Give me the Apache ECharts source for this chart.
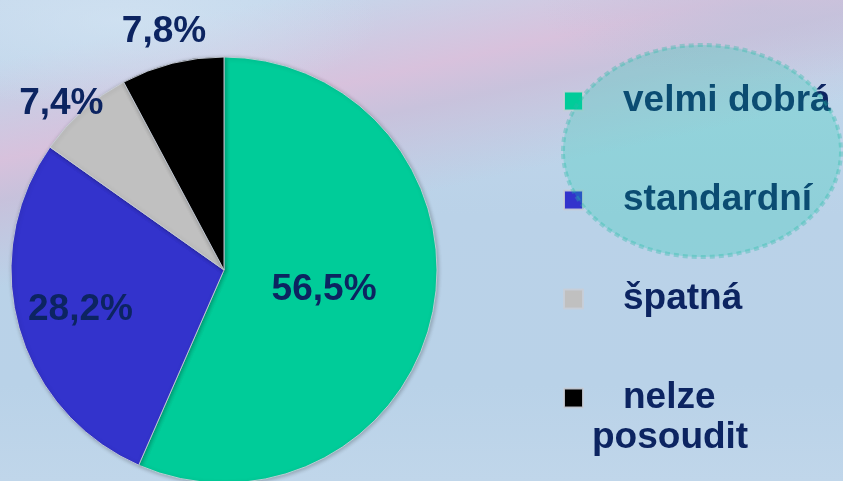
<!DOCTYPE html>
<html>
<head>
<meta charset="utf-8">
<script src="https://cdn.jsdelivr.net/npm/echarts@6/dist/echarts.min.js"></script>
<style>
  html, body { margin: 0; padding: 0; }
  #chart {
    width: 843px;
    height: 481px;
    background:
      radial-gradient(ellipse 260px 90px at 120px 20px, rgba(214,230,244,0.6), rgba(214,230,244,0)),
      radial-gradient(ellipse 220px 70px at 760px 10px, rgba(192,192,218,0.55), rgba(192,192,218,0)),
      linear-gradient(167.5deg,
        rgba(222,196,220,0) 9%,
        rgba(220,190,218,0.85) 24%,
        rgba(204,186,214,0.7) 30%,
        rgba(214,196,220,0) 43%),
      linear-gradient(180deg, #c4d8ec 0%, #bad2e8 45%, #b9d2e8 80%, #c0d6ea 100%);
  }
</style>
</head>
<body>
<div id="chart"></div>
<script>
// Assessment shares (%), clockwise from 12 o'clock
const categories = ['velmi dobrá', 'standardní', 'špatná', 'nelze posoudit'];
const shares = [56.5, 28.2, 7.4, 7.8];
const sliceColors = ['#00cc99', '#3333cc', '#c0c0c0', '#000000'];

// label distance from the centre (fraction of the radius) and small pixel nudges
const labelRadius = [0.48, 0.69, 1.09, 1.16];
const labelNudge = [[0, -1], [-2, 0], [-9, 8], [0, 1]];

const CX = 224, CY = 270, R = 213;
const textNavy = '#0c2461';
const fontFamily = '"Liberation Sans", Arial, sans-serif';

const chart = echarts.init(document.getElementById('chart'), null, { renderer: 'canvas' });

const fmt = v => v.toFixed(1).replace('.', ',') + '%';

chart.setOption({
  backgroundColor: 'transparent',
  animation: false,
  legend: {
    orient: 'vertical',
    left: 563,
    top: 81,
    padding: 0,
    itemWidth: 19,
    itemHeight: 19,
    itemGap: 59,
    icon: 'rect',
    selectedMode: false,
    data: categories,
    formatter: name => name === 'nelze posoudit' ? 'nelze' : name,
    textStyle: {
      color: textNavy,
      fontFamily: fontFamily,
      fontWeight: 'bold',
      fontSize: 37,
      lineHeight: 40,
      padding: [0, 0, 0, 35]
    }
  },
  graphic: [
    {
      type: 'text',
      left: 592,
      top: 419,
      z: 5,
      style: {
        text: 'posoudit',
        fill: textNavy,
        font: 'bold 37px ' + fontFamily
      }
    },
    {
      type: 'ellipse',
      z: 10,
      silent: true,
      shape: { cx: 702, cy: 151, rx: 139, ry: 106 },
      style: {
        fill: 'rgba(10,205,170,0.24)',
        stroke: 'rgba(40,185,165,0.35)',
        lineWidth: 4,
        lineDash: [5, 4]
      }
    }
  ],
  series: [{
    type: 'pie',
    center: [CX, CY],
    radius: R,
    startAngle: 90,
    clockwise: true,
    itemStyle: {
      borderColor: 'rgba(200,206,216,0.9)',
      borderWidth: 1,
      shadowBlur: 4,
      shadowColor: 'rgba(0,0,0,0.25)',
      shadowOffsetX: 1,
      shadowOffsetY: 1
    },
    label: {
      show: true,
      position: 'inside',
      formatter: p => fmt(p.value),
      color: textNavy,
      fontFamily: fontFamily,
      fontWeight: 'bold',
      fontSize: 37
    },
    labelLine: { show: false },
    emphasis: { disabled: true },
    labelLayout: function (params) {
      const r = params.labelRect;
      const lx = r.x + r.width / 2;
      const ly = r.y + r.height / 2;
      const vx = lx - CX, vy = ly - CY;
      const d = Math.sqrt(vx * vx + vy * vy) || 1;
      const i = params.dataIndex;
      const target = labelRadius[i] * R;
      return {
        dx: vx / d * (target - d) + labelNudge[i][0],
        dy: vy / d * (target - d) + labelNudge[i][1]
      };
    },
    data: categories.map((name, i) => ({
      name: name,
      value: shares[i],
      itemStyle: { color: sliceColors[i] }
    }))
  }]
});
</script>
</body>
</html>
